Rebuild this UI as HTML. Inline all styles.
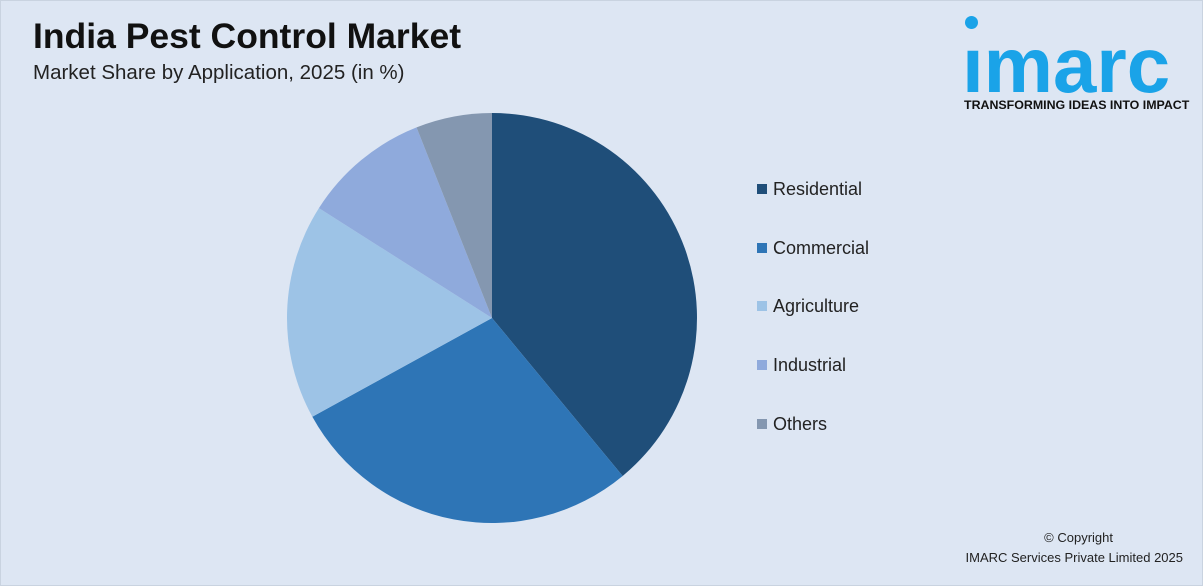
<!DOCTYPE html>
<html><head><meta charset="utf-8"><style>
body{margin:0;width:1203px;height:586px;background:#dde6f3;font-family:"Liberation Sans",sans-serif;position:relative;overflow:hidden}
.frame{position:absolute;left:0;top:0;width:1201px;height:584px;border:1px solid #c9d3e0}
h1{position:absolute;left:33px;top:16px;margin:0;font-size:35.5px;font-weight:bold;color:#111}
.sub{position:absolute;left:33px;top:61px;font-size:20.5px;color:#222}
.leg{position:absolute;left:757px;font-size:18px;color:#222}
.leg span{display:inline-block;width:10px;height:10px;margin-right:6px;vertical-align:1px}
.copy{position:absolute;right:20px;top:528px;text-align:right;font-size:13px;color:#222;line-height:20px}
.copy div:first-child{margin-right:70px}
</style></head><body>
<div class="frame"></div>
<h1>India Pest Control Market</h1>
<div class="sub">Market Share by Application, 2025 (in %)</div>
<div style="position:absolute;left:962px;top:14px;width:240px;height:100px">
<div style="position:absolute;left:3px;top:2px;width:13px;height:13px;border-radius:50%;background:#1aa3e8"></div>
<div style="position:absolute;left:0;top:6px;font-size:78px;font-weight:bold;color:#1aa3e8;letter-spacing:0px;line-height:90px">ımarc</div>
<div style="position:absolute;left:2px;top:84px;font-size:12.4px;font-weight:bold;color:#111">TRANSFORMING IDEAS INTO IMPACT</div>
</div>
<svg id="pie" width="1203" height="586" style="position:absolute;left:0;top:0"></svg>
<div id="legend"></div>
<div class="copy"><div>© Copyright</div><div>IMARC Services Private Limited 2025</div></div>
<script>
const categories=["Residential","Commercial","Agriculture","Industrial","Others"];
const values=[39,28,17,10,6];
const colors=["#1f4e79","#2e75b6","#9dc3e6","#8faadc","#8497b0"];
const cx=492,cy=318,r=205;
const svg=document.getElementById('pie');
const total=values.reduce((a,b)=>a+b,0);
let a0=0;
values.forEach((v,i)=>{
 const a1=a0+v/total*2*Math.PI;
 const x0=cx+r*Math.sin(a0),y0=cy-r*Math.cos(a0),x1=cx+r*Math.sin(a1),y1=cy-r*Math.cos(a1);
 const p=document.createElementNS('http://www.w3.org/2000/svg','path');
 p.setAttribute('d',`M${cx},${cy}L${x0},${y0}A${r},${r} 0 ${a1-a0>Math.PI?1:0} 1 ${x1},${y1}Z`);
 p.setAttribute('fill',colors[i]);
 
 
 svg.appendChild(p);a0=a1;
});
const lg=document.getElementById('legend');
categories.forEach((c,i)=>{
 const d=document.createElement('div');d.className='leg';d.style.top=(179+i*58.7)+'px';
 d.innerHTML=`<span style="background:${colors[i]}"></span>${c}`;
 
 
 lg.appendChild(d);
});
</script>
</body></html>
